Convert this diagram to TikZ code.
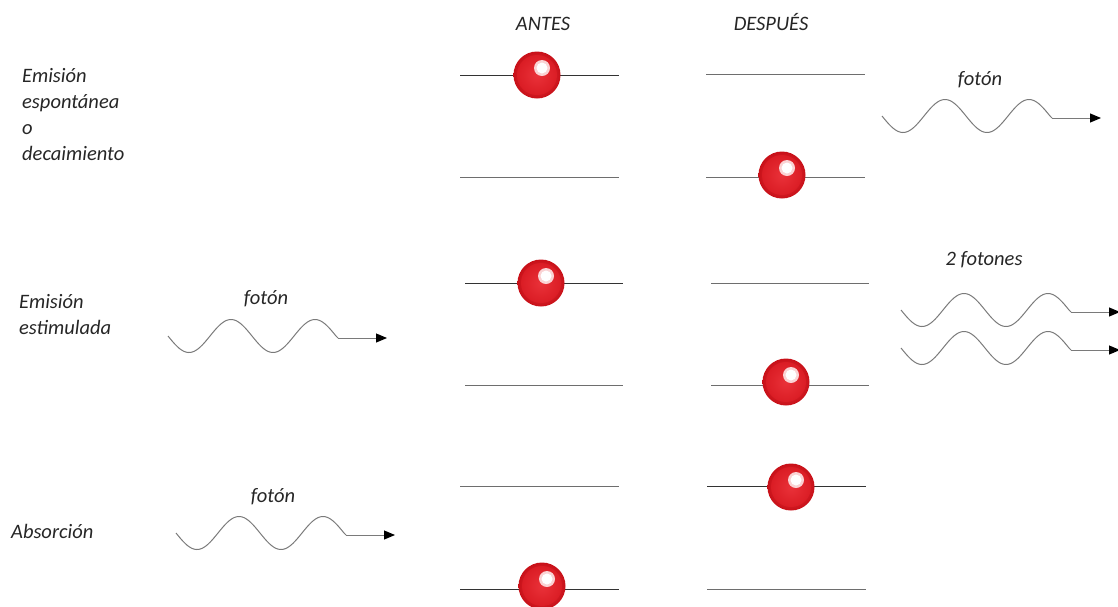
\documentclass[tikz,border=0pt]{standalone}
\usepackage{fontspec}
\setmainfont{Carlito}
\usetikzlibrary{arrows.meta}
\definecolor{ballred}{HTML}{E8222A}
\definecolor{balledge}{HTML}{C81018}
\definecolor{levelgrey}{HTML}{6E6E6E}
\definecolor{wavegrey}{HTML}{7A7A7A}
\tikzset{
  level/.style={draw=levelgrey, line width=0.9pt},
  occupied/.style={draw=black!80, line width=1pt},
  lbl/.style={font=\itshape\fontsize{20.5}{26}\selectfont, inner sep=0pt, align=left, text=black!85},
  wave/.style={draw=wavegrey, line width=1pt},
  photon/.pic={
    \draw[wave] plot[domain=0:168, samples=90, smooth] (\x, {16.5*sin(\x/84*360)});
    \coordinate (-end) at (170,2);
    \coordinate (-tip) at (219,2);
    \draw[wave] (168,0) -- (-end);
    \draw[wave, -{Triangle[length=11pt,width=9pt,color=black]}] (-end) -- (-tip);
  },
  electron/.pic={
    \shade[inner color=ballred!85!white, outer color=balledge] (0,0) circle (23.5);
    \fill[ballred, opacity=0.5] (0,0) circle (20);
    \fill[white!80!ballred] (5,-7) circle (8);
    \fill[white] (5,-7) circle (5.5);
  }
}
\begin{document}
\begin{tikzpicture}[x=1pt,y=-1pt]
  \useasboundingbox (0,0) rectangle (1118,606);

  % column headers
  \node[lbl] (antes) at (543,24) {ANTES};
  \node[lbl] (despues) at (771,22) {DESPUÉS};

  % row labels
  \node[lbl, anchor=north west] (espont) at (22,68) {Emisión\\espontánea\\o\\decaimiento};
  \node[lbl, anchor=north west] (estim) at (19,294) {Emisión\\estimulada};
  \node[lbl, anchor=west] (absor) at (11,531) {Absorción};

  % spontaneous emission: before / after
  \draw[occupied] (460,75) -- (619,75);
  \draw[level] (460,177) -- (619,177);
  \draw[level] (706,74) -- (865,74);
  \draw[level] (706,177) -- (865,177);
  \pic at (537,75) {electron};
  \pic at (782,175) {electron};
  \node[lbl] (f1) at (980,80) {fotón};
  \pic (ph1) at (882,116) {photon};

  % stimulated emission
  \node[lbl] (f2) at (266,299) {fotón};
  \pic (ph2) at (168,336) {photon};
  \draw[occupied] (465,283) -- (623,283);
  \draw[level] (465,385) -- (623,385);
  \draw[level] (711,283) -- (869,283);
  \draw[level] (711,385) -- (869,385);
  \pic at (541,283) {electron};
  \pic at (786,382) {electron};
  \node[lbl] (f3) at (984,260) {2 fotones};
  \pic (ph3) at (901,310) {photon};
  \pic (ph4) at (901,348) {photon};

  % absorption
  \node[lbl] (f4) at (273,497) {fotón};
  \pic (ph5) at (176,533) {photon};
  \draw[level] (460,486) -- (619,486);
  \draw[occupied] (460,589) -- (619,589);
  \draw[occupied] (707,486) -- (866,486);
  \draw[level] (707,589) -- (866,589);
  \pic at (542,586) {electron};
  \pic at (791,487) {electron};
\end{tikzpicture}
\end{document}
